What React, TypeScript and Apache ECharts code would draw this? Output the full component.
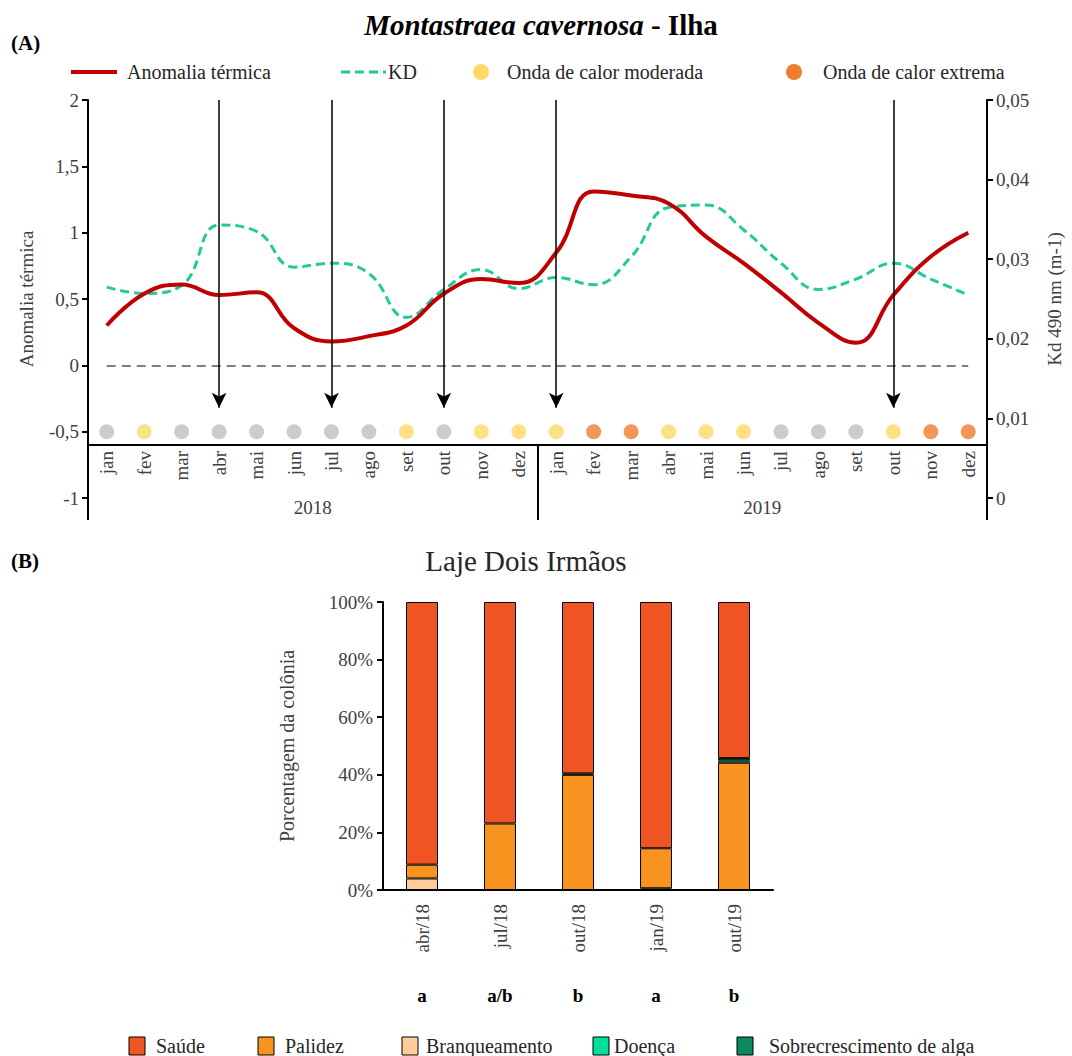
import React, { useEffect, useRef } from "react";
import * as echarts from "echarts";

// ---------- Data ----------
const months = ["jan", "fev", "mar", "abr", "mai", "jun", "jul", "ago", "set", "out", "nov", "dez"];
const years = ["2018", "2019"];
const categories = [...months.map((m) => m + "|2018"), ...months.map((m) => m + "|2019")];

const anomalia = [
  0.3, 0.54, 0.61, 0.53, 0.55, 0.28, 0.18, 0.22, 0.3, 0.54, 0.65, 0.62,
  0.85, 1.31, 1.28, 1.22, 0.97, 0.77, 0.55, 0.32, 0.17, 0.53, 0.82, 1.0,
];
const kd = [
  0.0265, 0.0257, 0.0267, 0.0343, 0.0335, 0.029, 0.0295, 0.0282, 0.0227, 0.0262, 0.0287, 0.0263,
  0.0277, 0.0268, 0.0303, 0.0365, 0.0368, 0.0337, 0.0295, 0.0262, 0.0275, 0.0295, 0.0275, 0.0255,
];
// n = sem onda, m = moderada, e = extrema
const waveStatus = [
  "n", "m", "n", "n", "n", "n", "n", "n", "m", "n", "m", "m",
  "m", "e", "e", "m", "m", "m", "n", "n", "n", "m", "e", "e",
];
const dotLevel = -0.5;
const arrowMonths = ["abr|2018", "jul|2018", "out|2018", "jan|2019", "out|2019"];
const arrowTop = 2;
const arrowBottom = -0.32;

const barCats = ["abr/18", "jul/18", "out/18", "jan/19", "out/19"];
const sigLetters = ["a", "a/b", "b", "a", "b"];
const branqueamento = [4.0, 0, 0, 0.6, 0];
const palidez = [4.8, 23.1, 40.0, 13.9, 44.2];
const doenca = [0, 0, 0, 0, 0.8];
const sobrecrescimento = [0, 0, 0.5, 0, 0.8];
const saude = [91.2, 76.9, 59.5, 85.5, 54.2];

// ---------- Style ----------
const FONT = "'Liberation Serif', 'Times New Roman', 'DejaVu Serif', serif";
const TXT = "#404040";
const C_RED = "#c00000";
const C_KD = "#23c99b";
const C_GRAY = "#bfbfbf";
const C_MOD = "#ffd966";
const C_EXT = "#ed7d31";
const C_SAUDE = "#f05423";
const C_PALIDEZ = "#f7931e";
const C_BRANQ = "#ffcc99";
const C_DOENCA = "#00e09a";
const C_SOBRE = "#0b8a5e";

const fmtDec = (v: number) => String(v).replace(".", ",");
const fmtKd = (v: number) => (v === 0 ? "0" : v.toFixed(2).replace(".", ","));

export default function App() {
  const ref = useRef<HTMLDivElement>(null);

  useEffect(() => {
    document.body.style.margin = "0";
    const chart = echarts.init(ref.current!, null, { renderer: "svg" });

    const dots = (code: string) => waveStatus.map((s) => (s === code ? dotLevel : "-"));
    const nz = (arr: number[]) => arr.map((v) => (v ? v : "-"));

    const barSeries = (name: string, data: number[], color: string) => ({
      name,
      type: "bar",
      xAxisIndex: 2,
      yAxisIndex: 2,
      stack: "b",
      barWidth: 32,
      data: nz(data),
      itemStyle: { color, borderColor: "#000", borderWidth: 1 },
      emphasis: { disabled: true },
    });

    const lbl = (extra: any = {}) => ({ fontFamily: FONT, fontSize: 19, color: TXT, ...extra });

    const legendTop = 72;
    const legendBot = 1046;
    const legText = (x: number, y: number, text: string) => ({
      type: "text",
      x,
      y,
      style: { text, fontFamily: FONT, fontSize: 20, fill: "#262626", verticalAlign: "middle", align: "left" },
    });
    const legRect = (x: number, color: string) => ({
      type: "rect",
      shape: { x, y: legendBot - 9, width: 16, height: 18 },
      style: { fill: color, stroke: "#000", lineWidth: 1 },
    });

    const option: any = {
      animation: false,
      textStyle: { fontFamily: FONT },
      grid: [
        { left: 88, right: 82, top: 100, height: 398 },
        { left: 383, width: 390, top: 602, height: 288 },
      ],
      xAxis: [
        {
          type: "category",
          gridIndex: 0,
          data: categories,
          position: "bottom",
          offset: -53,
          axisLine: { onZero: false, lineStyle: { color: "#000", width: 2 } },
          axisTick: { show: false },
          axisLabel: lbl({
            rotate: 90,
            interval: 0,
            margin: 6,
            formatter: (v: string) => v.split("|")[0],
          }),
        },
        {
          type: "category",
          gridIndex: 0,
          data: years,
          position: "bottom",
          offset: 22,
          axisLine: { show: false, onZero: false },
          axisTick: { show: true, inside: true, length: 75, lineStyle: { color: "#000", width: 2 } },
          axisLabel: lbl({ inside: true, margin: 3 }),
        },
        {
          type: "category",
          gridIndex: 1,
          data: barCats,
          axisLine: { onZero: false, lineStyle: { color: "#000", width: 2 } },
          axisTick: { show: false },
          axisLabel: lbl({ rotate: 90, interval: 0, margin: 14 }),
        },
        {
          type: "category",
          gridIndex: 1,
          data: sigLetters,
          position: "bottom",
          offset: 88,
          axisLine: { show: false, onZero: false },
          axisTick: { show: false },
          axisLabel: lbl({ interval: 0, margin: 8, fontWeight: "bold", color: "#000" }),
        },
      ],
      yAxis: [
        {
          type: "value",
          gridIndex: 0,
          min: -1,
          max: 2,
          interval: 0.5,
          position: "left",
          axisLine: { show: true, onZero: false, lineStyle: { color: "#000", width: 2 } },
          axisTick: { show: true, length: 6, lineStyle: { color: "#000", width: 2 } },
          splitLine: { show: false },
          axisLabel: lbl({ formatter: fmtDec, margin: 9 }),
          name: "Anomalia térmica",
          nameLocation: "middle",
          nameRotate: 90,
          nameGap: 52,
          nameTextStyle: lbl(),
        },
        {
          type: "value",
          gridIndex: 0,
          min: 0,
          max: 0.05,
          interval: 0.01,
          position: "right",
          axisLine: { show: true, onZero: false, lineStyle: { color: "#000", width: 2 } },
          axisTick: { show: true, length: 6, lineStyle: { color: "#000", width: 2 } },
          splitLine: { show: false },
          axisLabel: lbl({ formatter: fmtKd, margin: 9 }),
          name: "Kd 490 nm (m-1)",
          nameLocation: "middle",
          nameRotate: 90,
          nameGap: 58,
          nameTextStyle: lbl(),
        },
        {
          type: "value",
          gridIndex: 1,
          min: 0,
          max: 100,
          interval: 20,
          axisLine: { show: true, onZero: false, lineStyle: { color: "#000", width: 2 } },
          axisTick: { show: true, length: 6, lineStyle: { color: "#000", width: 2 } },
          splitLine: { show: false },
          axisLabel: lbl({ formatter: (v: number) => v + "%", margin: 10 }),
          name: "Porcentagem da colônia",
          nameLocation: "middle",
          nameRotate: 90,
          nameGap: 86,
          nameTextStyle: lbl({ fontSize: 20 }),
        },
      ],
      series: [
        {
          name: "KD",
          type: "line",
          xAxisIndex: 0,
          yAxisIndex: 1,
          data: kd,
          smooth: 0.45,
          symbol: "none",
          lineStyle: { color: C_KD, width: 3, type: [9, 5] },
          z: 3,
        },
        {
          name: "Anomalia térmica",
          type: "line",
          xAxisIndex: 0,
          yAxisIndex: 0,
          data: anomalia,
          smooth: 0.45,
          symbol: "none",
          lineStyle: { color: C_RED, width: 4 },
          z: 4,
          markLine: {
            silent: true,
            symbol: ["none", "none"],
            label: { show: false },
            lineStyle: { color: "#7f7f7f", width: 2, type: [9, 6] },
            data: [[{ coord: [categories[0], 0] }, { coord: [categories[categories.length - 1], 0] }]],
          },
        },
        {
          name: "Sem onda",
          type: "scatter",
          xAxisIndex: 0,
          yAxisIndex: 0,
          data: dots("n"),
          symbolSize: 15,
          itemStyle: { color: C_GRAY },
          z: 5,
          markLine: {
            silent: true,
            symbol: ["none", "arrow"],
            symbolSize: [11, 15],
            label: { show: false },
            lineStyle: { color: "#000", width: 1.5, type: "solid" },
            data: arrowMonths.map((c) => [{ coord: [c, arrowTop] }, { coord: [c, arrowBottom] }]),
          },
        },
        {
          name: "Onda de calor moderada",
          type: "scatter",
          xAxisIndex: 0,
          yAxisIndex: 0,
          data: dots("m"),
          symbolSize: 15,
          itemStyle: { color: C_MOD },
          z: 5,
        },
        {
          name: "Onda de calor extrema",
          type: "scatter",
          xAxisIndex: 0,
          yAxisIndex: 0,
          data: dots("e"),
          symbolSize: 15,
          itemStyle: { color: C_EXT },
          z: 5,
        },
        barSeries("Branqueamento", branqueamento, C_BRANQ),
        barSeries("Palidez", palidez, C_PALIDEZ),
        barSeries("Doença", doenca, C_DOENCA),
        barSeries("Sobrecrescimento de alga", sobrecrescimento, C_SOBRE),
        barSeries("Saúde", saude, C_SAUDE),
      ],
      graphic: [
        {
          type: "text",
          x: 541,
          y: 25,
          style: {
            text: "{i|Montastraea cavernosa}{b| - Ilha}",
            align: "center",
            verticalAlign: "middle",
            rich: {
              i: { fontFamily: FONT, fontSize: 29, fontStyle: "italic", fontWeight: "bold", fill: "#000" },
              b: { fontFamily: FONT, fontSize: 29, fontWeight: "bold", fill: "#000" },
            },
          },
        },
        {
          type: "text",
          x: 11,
          y: 43,
          style: { text: "(A)", fontFamily: FONT, fontSize: 21, fontWeight: "bold", fill: "#000", verticalAlign: "middle" },
        },
        {
          type: "text",
          x: 526,
          y: 561,
          style: { text: "Laje Dois Irmãos", fontFamily: FONT, fontSize: 29, fill: "#262626", align: "center", verticalAlign: "middle" },
        },
        {
          type: "text",
          x: 11,
          y: 561,
          style: { text: "(B)", fontFamily: FONT, fontSize: 21, fontWeight: "bold", fill: "#000", verticalAlign: "middle" },
        },
        // top legend
        { type: "line", shape: { x1: 71, y1: legendTop, x2: 117, y2: legendTop }, style: { stroke: C_RED, lineWidth: 4 } },
        legText(127, legendTop, "Anomalia térmica"),
        { type: "line", shape: { x1: 341, y1: legendTop, x2: 386, y2: legendTop }, style: { stroke: C_KD, lineWidth: 3, lineDash: [9, 5] } },
        legText(388, legendTop, "KD"),
        { type: "circle", shape: { cx: 481, cy: legendTop, r: 8 }, style: { fill: C_MOD } },
        legText(507, legendTop, "Onda de calor moderada"),
        { type: "circle", shape: { cx: 794, cy: legendTop, r: 8 }, style: { fill: C_EXT } },
        legText(823, legendTop, "Onda de calor extrema"),
        // bottom legend
        legRect(129, C_SAUDE),
        legText(156, legendBot, "Saúde"),
        legRect(258, C_PALIDEZ),
        legText(285, legendBot, "Palidez"),
        legRect(402, C_BRANQ),
        legText(426, legendBot, "Branqueamento"),
        legRect(593, C_DOENCA),
        legText(614, legendBot, "Doença"),
        legRect(737, C_SOBRE),
        legText(769, legendBot, "Sobrecrescimento de alga"),
      ],
    };

    chart.setOption(option);
    return () => chart.dispose();
  }, []);

  return <div ref={ref} style={{ width: 1072, height: 1056 }} />;
}
